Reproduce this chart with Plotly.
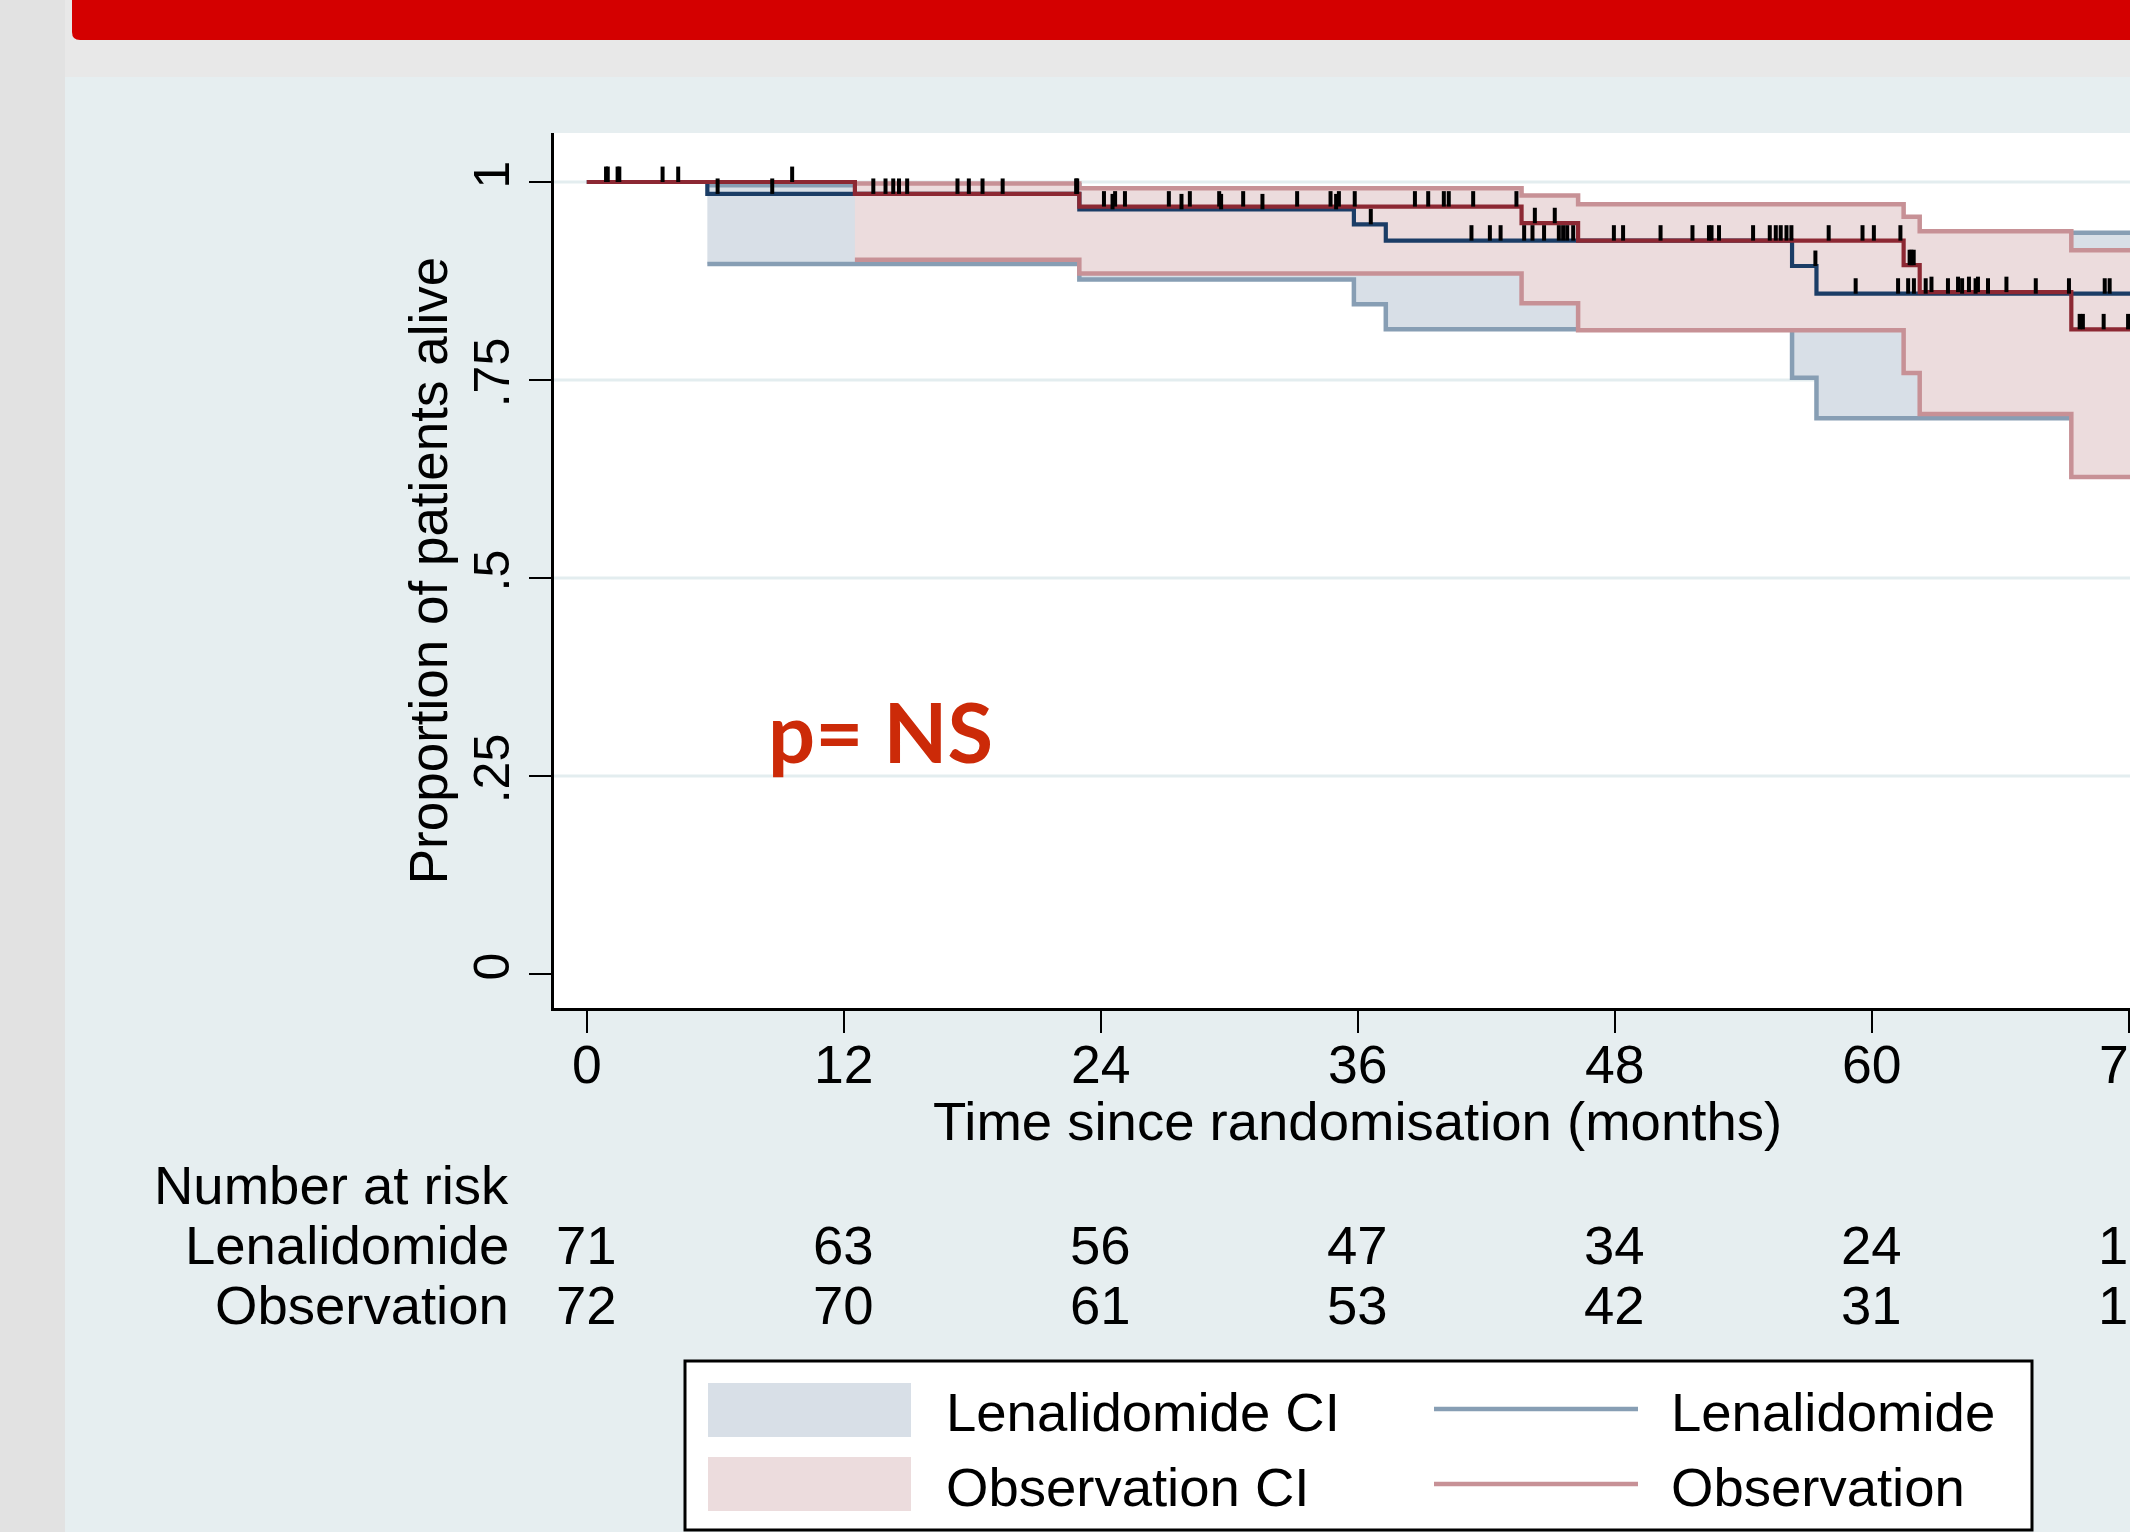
import plotly.graph_objects as go

# ---------------- data ----------------
months_ticks = [0, 12, 24, 36, 48, 60, 72]
y_ticks = [0, 0.25, 0.5, 0.75, 1]
y_ticktext = ["0", ".25", ".5", ".75", "1"]
grid_vals = [0.25, 0.5, 0.75, 1]

# Kaplan-Meier steps
lena_t = [0, 5.63, 23.0, 35.82, 37.31, 56.28, 57.42, 72.5]
lena_s = [1, 0.985, 0.9655, 0.9466, 0.926, 0.894, 0.859, 0.859]
obs_t = [0, 12.52, 23.0, 43.65, 46.29, 61.49, 62.24, 69.32, 72.5]
obs_s = [1, 0.985, 0.969, 0.948, 0.926, 0.895, 0.861, 0.814, 0.814]

# confidence bands
lena_ci_t = [5.63, 23.0, 35.82, 37.31, 56.28, 57.42, 72.5]
lena_ci_lo = [0.8965, 0.877, 0.8456, 0.814, 0.753, 0.7016, 0.7016]
lena_ci_hi = [0.996, 0.99, 0.98, 0.972, 0.95, 0.936, 0.936]
obs_ci_t = [12.52, 23.0, 43.65, 46.29, 61.49, 62.24, 69.32, 72.5]
obs_ci_lo = [0.902, 0.8845, 0.847, 0.813, 0.759, 0.707, 0.6275, 0.6275]
obs_ci_hi = [0.998, 0.992, 0.983, 0.972, 0.956, 0.938, 0.914, 0.914]

# censoring times
lena_cens = [0.90, 1.44, 6.11, 8.66, 13.38, 14.31, 14.96, 17.84, 19.42, 22.85,
             24.55, 27.77, 29.62, 31.55, 34.99, 36.61,
             41.31, 42.17, 42.67, 43.77, 44.16, 44.70, 45.39, 45.59, 45.78, 46.06,
             47.96, 50.14, 52.40, 52.87, 55.24, 55.75, 56.25, 57.37,
             59.25, 61.23, 61.70, 61.97, 62.52, 63.56, 64.22, 64.85, 65.43,
             67.66, 69.21, 70.88, 71.11]
obs_cens = [0.98, 1.52, 3.54, 4.27, 9.59, 13.95, 14.58, 17.31, 18.48, 22.9,
            24.15, 24.67, 25.13, 27.18, 28.16, 29.53, 30.65, 33.17, 34.73, 35.12, 35.86,
            38.67, 39.29, 40.02, 40.25, 41.39, 43.41, 44.27, 45.20,
            48.39, 51.63, 52.52, 54.46, 55.52, 56.02, 57.99, 59.57, 60.10, 61.34,
            61.77, 61.85, 61.96, 62.79, 64.03, 64.54, 64.96, 66.29,
            69.71, 69.86, 70.83, 71.97]

# number at risk
risk_lena = [71, 63, 56, 47, 34, 24, 13]
risk_obs = [72, 70, 61, 53, 42, 31, 18]
group_names = ["Lenalidomide", "Observation"]

# ---------------- styles ----------------
FONT = "Liberation Sans, Arial, Helvetica, sans-serif"
NAVY = "#1b3d66"
MAROON = "#8c2833"
STEEL = "#879eb4"
ROSE = "#c79196"
LENA_FILL = "#d8dfe7"
OBS_FILL = "#ecdcdd"
PANEL = "#e6eef0"

W, H = 2130, 1532
L, R, T, B = 554, 0, 133, 524
PW, PH = W - L - R, H - T - B


def px_x(px):
    return (px - L) / PW


def px_y(py):
    return 1 - (py - T) / PH


def step_val(ts, ss, t):
    v = ss[0]
    for ti, si in zip(ts, ss):
        if ti <= t:
            v = si
    return v


fig = go.Figure()

# Lenalidomide CI
fig.add_trace(go.Scatter(x=lena_ci_t, y=lena_ci_lo, mode="lines",
                         line=dict(color=STEEL, width=4.5, shape="hv"), hoverinfo="skip"))
fig.add_trace(go.Scatter(x=lena_ci_t, y=lena_ci_hi, mode="lines", fill="tonexty",
                         fillcolor=LENA_FILL,
                         line=dict(color=STEEL, width=4.5, shape="hv"), hoverinfo="skip"))
# Observation CI
fig.add_trace(go.Scatter(x=obs_ci_t, y=obs_ci_lo, mode="lines",
                         line=dict(color=ROSE, width=4.5, shape="hv"), hoverinfo="skip"))
fig.add_trace(go.Scatter(x=obs_ci_t, y=obs_ci_hi, mode="lines", fill="tonexty",
                         fillcolor=OBS_FILL,
                         line=dict(color=ROSE, width=4.5, shape="hv"), hoverinfo="skip"))
# KM curves
fig.add_trace(go.Scatter(x=lena_t, y=lena_s, mode="lines", name="Lenalidomide",
                         line=dict(color=NAVY, width=4.2, shape="hv")))
fig.add_trace(go.Scatter(x=obs_t, y=obs_s, mode="lines", name="Observation",
                         line=dict(color=MAROON, width=4.2, shape="hv")))

# censor ticks
tick_h = 0.0195
for ts, ss, cens in [(lena_t, lena_s, lena_cens), (obs_t, obs_s, obs_cens)]:
    ys = [step_val(ts, ss, c) for c in cens]
    fig.add_trace(go.Scatter(
        x=cens, y=ys, mode="markers",
        marker=dict(size=1, opacity=0),
        error_y=dict(type="data", symmetric=False, array=[tick_h] * len(cens),
                     arrayminus=[0] * len(cens), width=0, color="black", thickness=4),
        hoverinfo="skip"))

shapes = []
# slide decoration
shapes.append(dict(type="rect", xref="paper", yref="paper",
                   x0=px_x(0), x1=px_x(W), y0=px_y(77), y1=px_y(0),
                   fillcolor="#e8e8e8", line=dict(width=0), layer="below"))
shapes.append(dict(type="rect", xref="paper", yref="paper",
                   x0=px_x(0), x1=px_x(65), y0=px_y(H), y1=px_y(0),
                   fillcolor="#e2e2e2", line=dict(width=0), layer="below"))
x0, x1, y0, y1, r = px_x(72), px_x(W), px_y(40), px_y(0), 8
path = (f"M {x0},{y1} L {x1},{y1} L {x1},{y0} L {px_x(72 + r)},{y0} "
        f"Q {x0},{y0} {x0},{px_y(40 - r)} Z")
shapes.append(dict(type="path", xref="paper", yref="paper", path=path,
                   fillcolor="#d40000", line=dict(width=0), layer="below"))
# grid lines
for g in grid_vals:
    shapes.append(dict(type="line", xref="paper", yref="y", x0=0, x1=1, y0=g, y1=g,
                       line=dict(color="#e3edef", width=3), layer="below"))
# legend box
shapes.append(dict(type="rect", xref="paper", yref="paper",
                   x0=px_x(685), x1=px_x(2032), y0=px_y(1530), y1=px_y(1361),
                   fillcolor="white", line=dict(color="black", width=3), layer="above"))
shapes.append(dict(type="rect", xref="paper", yref="paper",
                   x0=px_x(708), x1=px_x(911), y0=px_y(1437), y1=px_y(1383),
                   fillcolor=LENA_FILL, line=dict(width=0), layer="above"))
shapes.append(dict(type="rect", xref="paper", yref="paper",
                   x0=px_x(708), x1=px_x(911), y0=px_y(1511), y1=px_y(1457),
                   fillcolor=OBS_FILL, line=dict(width=0), layer="above"))
shapes.append(dict(type="line", xref="paper", yref="paper",
                   x0=px_x(1434), x1=px_x(1638), y0=px_y(1409), y1=px_y(1409),
                   line=dict(color=STEEL, width=4.5), layer="above"))
shapes.append(dict(type="line", xref="paper", yref="paper",
                   x0=px_x(1434), x1=px_x(1638), y0=px_y(1484), y1=px_y(1484),
                   line=dict(color=ROSE, width=4.5), layer="above"))

annotations = []
TXT = dict(family=FONT, size=54.5, color="black")
legend_items = [("Lenalidomide CI", 944, 1412), ("Observation CI", 944, 1487),
                ("Lenalidomide", 1669, 1412), ("Observation", 1669, 1487)]
for txt, lx, ly in legend_items:
    annotations.append(dict(text=txt, xref="paper", yref="paper", x=px_x(lx), y=px_y(ly),
                            xanchor="left", yanchor="middle", showarrow=False, font=TXT))

# x axis title (centred on the visible part of the axis, as in the slide)
annotations.append(dict(text="Time since randomisation (months)", xref="paper", yref="paper",
                        x=px_x(1357), y=px_y(1121), xanchor="center", yanchor="middle",
                        showarrow=False, font=TXT))

# number at risk table
annotations.append(dict(text="Number at risk", xref="paper", yref="paper",
                        x=px_x(511), y=px_y(1185), xanchor="right", yanchor="middle",
                        showarrow=False, font=TXT))
for name, vals, ry in [(group_names[0], risk_lena, 1245), (group_names[1], risk_obs, 1305)]:
    annotations.append(dict(text=name, xref="paper", yref="paper",
                            x=px_x(511), y=px_y(ry), xanchor="right", yanchor="middle",
                            showarrow=False, font=TXT))
    for t, v in zip(months_ticks, vals):
        annotations.append(dict(text=str(v), xref="x", yref="paper", x=t, y=px_y(ry),
                                xanchor="center", yanchor="middle", showarrow=False,
                                font=TXT))

annotations.append(dict(text="p= NS", xref="paper", yref="paper", x=px_x(766), y=px_y(731),
                        xanchor="left", yanchor="middle", showarrow=False,
                        font=dict(family="Lato", size=83, color="#cc2a08", weight=700)))

fig.update_layout(
    width=W, height=H,
    margin=dict(l=L, r=R, t=T, b=B, pad=0, autoexpand=False),
    paper_bgcolor=PANEL, plot_bgcolor="white",
    showlegend=False,
    font=dict(family=FONT, color="black"),
    shapes=shapes, annotations=annotations,
    xaxis=dict(range=[-1.53, 72.06], tickvals=months_ticks,
               ticktext=[str(m) for m in months_ticks],
               automargin=False,
               ticks="outside", ticklen=22, tickwidth=2, tickcolor="black",
               showline=True, linecolor="black", linewidth=2.5,
               showgrid=False, zeroline=False, ticklabelstandoff=-14,
               ticklabeloverflow="allow",
               tickfont=dict(family=FONT, size=53.5, color="black")),
    yaxis=dict(range=[-0.0429, 1.0619], tickvals=y_ticks, ticktext=y_ticktext,
               automargin=False,
               tickangle=-90, ticks="outside", ticklen=22, tickwidth=2, tickcolor="black",
               showline=True, linecolor="black", linewidth=2.5,
               showgrid=False, zeroline=False,
               tickfont=dict(family=FONT, size=50, color="black"),
               title=dict(text="Proportion of patients alive",
                          font=dict(family=FONT, size=53, color="black"), standoff=0)),
)

fig.write_html("out.html",
               config={"displayModeBar": False},
               post_script="document.body.style.margin='0px';"
                           "document.body.style.overflow='hidden';")
